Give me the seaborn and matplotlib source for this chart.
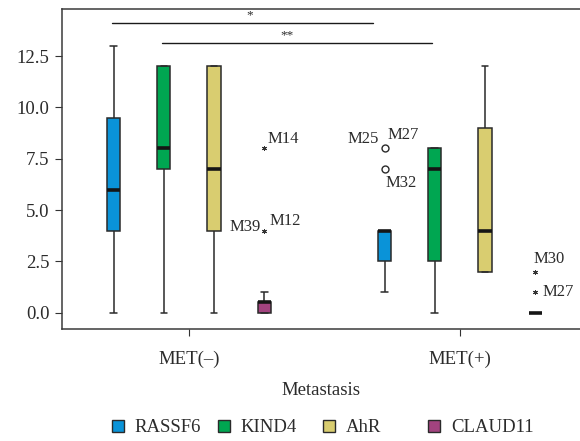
import numpy as np
import pandas as pd
import matplotlib
matplotlib.use("Agg")
import matplotlib.pyplot as plt
from matplotlib.patches import Patch
import seaborn as sns

# ---------------- data ----------------
groups = ["MET(–)", "MET(+)"]
genes = ["RASSF6", "KIND4", "AhR", "CLAUD11"]
# five-number summaries per group: [whisker low, Q1, median, Q3, whisker high]
RASSF6 = [[0, 4, 6, 9.5, 13], [1, 2.5, 4, 4, 4]]
KIND4 = [[0, 7, 8, 12, 12], [0, 2.5, 7, 8, 8]]
AhR = [[0, 4, 7, 12, 12], [2, 2, 4, 9, 12]]
CLAUD11 = [[0, 0, 0.5, 0.5, 1], [0, 0, 0, 0, 0]]

# outlying cases
out_group = ["MET(–)", "MET(–)", "MET(+)", "MET(+)", "MET(+)", "MET(+)"]
out_gene = ["CLAUD11", "CLAUD11", "RASSF6", "RASSF6", "CLAUD11", "CLAUD11"]
out_value = [8, 4, 8, 7, 2, 1]
out_kind = ["extreme", "extreme", "outlier", "outlier", "extreme", "extreme"]
out_labels = [["M14"], ["M39", "M12"], ["M25", "M27"], ["M32"], ["M30"], ["M27"]]

# significance brackets
sig_text = ["*", "**"]
sig_y = [14.13, 13.15]

# ---------------- styling ----------------
colors = ["#0A93D8", "#00A651", "#D9CD70", "#A2437F"]
# label offsets in pixels (dx, dy, ha) per label
label_offsets = [[(3, 9, "left")],
                 [(-4, 4, "right"), (5, 10, "left")],
                 [(-6, 9, "right"), (3, 13, "left")],
                 [(1, -14, "left")],
                 [(-2, 13, "left")],
                 [(7, 0, "left")]]
sig_x = [(-0.284, 0.679), (-0.0996, 0.897)]
sig_tx = [0.225, 0.362]

sns.set_style("ticks")
plt.rcParams["font.family"] = ["Liberation Serif", "DejaVu Serif"]
txt = "#2b2b2b"

fig = plt.figure(figsize=(5.8, 4.41), dpi=100)
ax = fig.add_axes([62 / 580, (441 - 328.7) / 441, 1 - 62 / 580, (328.7 - 9.3) / 441])

tables = {"RASSF6": RASSF6, "KIND4": KIND4, "AhR": AhR, "CLAUD11": CLAUD11}
rows = []
for g in genes:
    for gi, grp in enumerate(groups):
        for v in tables[g][gi]:
            rows.append({"Metastasis": grp, "gene": g, "value": v})
df = pd.DataFrame(rows)

width = 0.7424
gap = 0.736
sns.boxplot(data=df, x="Metastasis", y="value", hue="gene", order=groups,
            hue_order=genes, palette=colors, saturation=1, width=width, gap=gap,
            whis=(0, 100), showfliers=False, linecolor="#2a2a2a", linewidth=1.1,
            medianprops=dict(color="#151515", linewidth=2.6),
            legend=False, ax=ax)

step = width / len(genes)
for grp, gene, val, kind, labs, offs in zip(out_group, out_gene, out_value,
                                             out_kind, out_labels, label_offsets):
    x = groups.index(grp) + (genes.index(gene) - 1.5) * step
    if kind == "outlier":
        ax.plot([x], [val], marker="o", ms=5, mfc="white", mec="#2a2a2a", mew=1.0, ls="none")
    else:
        ax.plot([x], [val], marker=(6, 2, 0), ms=3.6, mec="#333333", mew=0.7, ls="none")
    for lab, (dx, dy, ha) in zip(labs, offs):
        ax.annotate(lab, (x, val), xytext=(dx, dy), textcoords="offset pixels",
                    ha=ha, va="center", fontsize=12, color=txt)

for (x0, x1), y, t, tx in zip(sig_x, sig_y, sig_text, sig_tx):
    ax.plot([x0, x1], [y, y], color="#1a1a1a", lw=1.0)
    ax.text(tx, y + 0.05, t, ha="center", va="bottom", fontsize=9.5, color=txt)

ax.set_xlim(-0.4686, 1.443)
ax.set_ylim(-0.78, 14.78)
ax.set_yticks([0, 2.5, 5, 7.5, 10, 12.5])
ax.set_yticklabels(["0.0", "2.5", "5.0", "7.5", "10.0", "12.5"])
ax.set_ylabel("")
ax.set_xlabel("Metastasis", fontsize=13.5, color=txt, labelpad=10)
ax.tick_params(axis="y", labelsize=13.5, labelcolor=txt, length=5, pad=4, color="#333333")
ax.tick_params(axis="x", labelsize=13.5, labelcolor=txt, length=5, pad=11, color="#333333")
for s in ["left", "bottom", "top"]:
    ax.spines[s].set_visible(True)
    ax.spines[s].set_color("#3a3a3a")
    ax.spines[s].set_linewidth(1.1)
ax.spines["right"].set_visible(False)

leg_x = [112, 218, 323, 428]
for g, c, lx in zip(genes, colors, leg_x):
    fig.legend(handles=[Patch(facecolor=c, edgecolor="#2a2a2a", linewidth=1.0)],
               labels=[g], loc="center left", bbox_to_anchor=(lx / 580, (441 - 428) / 441),
               frameon=False, borderpad=0, borderaxespad=0, handlelength=0.62,
               handleheight=0.62, handletextpad=0.6, fontsize=13.5, labelcolor=txt)

fig.savefig("out.png", dpi=100)
